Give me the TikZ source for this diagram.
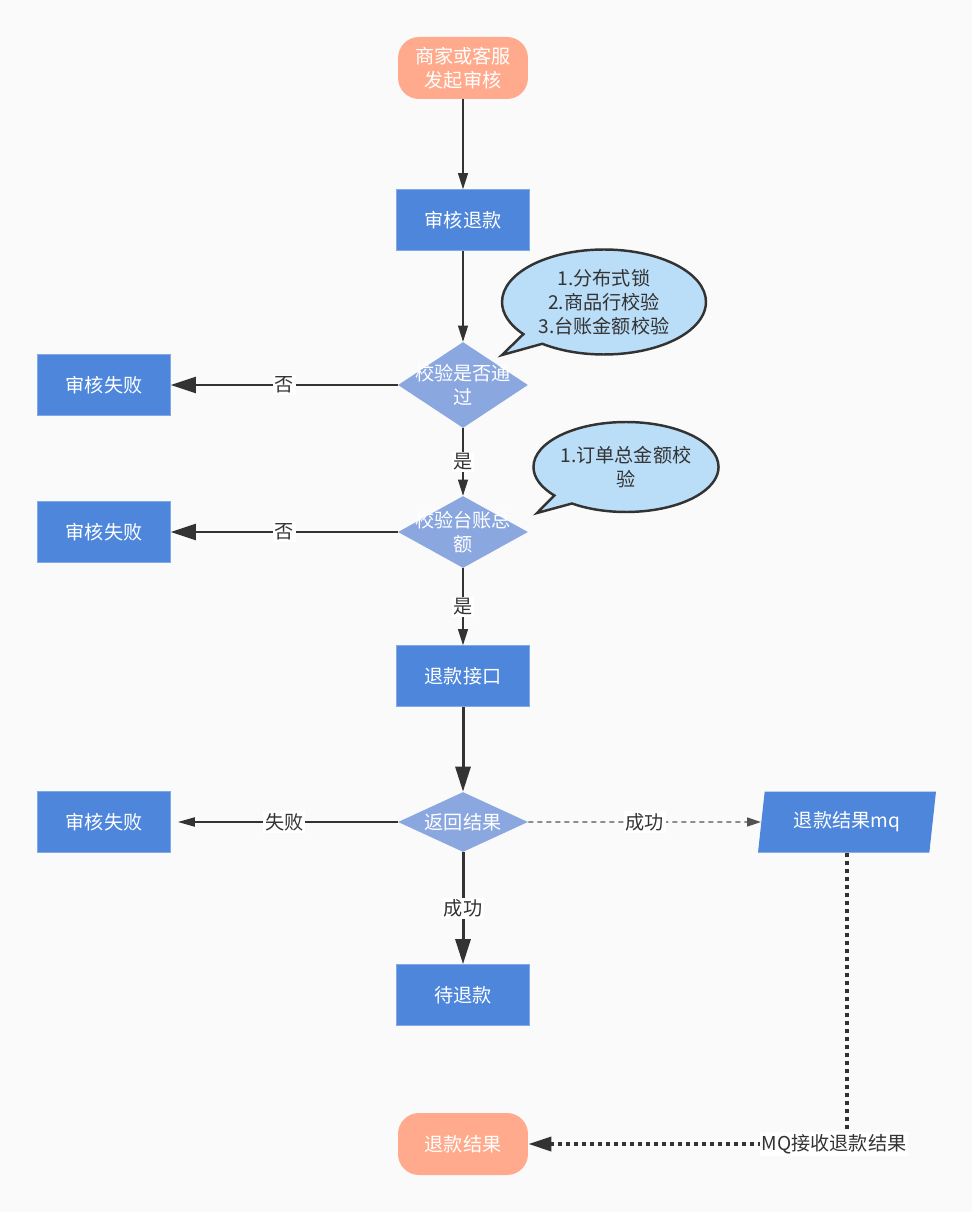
\documentclass[tikz,border=0pt]{standalone}
\usepackage{fontspec}
\setmainfont{Noto Sans CJK SC}
\usetikzlibrary{shapes.geometric,shapes.callouts,arrows.meta}
\definecolor{bgcol}{HTML}{FAFAFA}
\definecolor{termfill}{HTML}{FFAA8C}
\definecolor{procfill}{HTML}{4D86DB}
\definecolor{decfill}{HTML}{8AA7E0}
\definecolor{notefill}{HTML}{BADDF8}
\definecolor{linecol}{HTML}{333333}

\begin{document}
\begin{tikzpicture}
  [x=0.02cm,y=-0.02cm,
   every node/.style={font=\fontsize{10.9}{13.6}\selectfont},
   term/.style={rounded corners=0.42cm,fill=termfill,text=white,minimum width=2.6cm,minimum height=1.24cm,align=center,inner sep=0},
   proc/.style={fill=procfill,draw=procfill!70!white,text=white,minimum width=2.66cm,minimum height=1.22cm,inner sep=0},
   dec/.style={diamond,fill=decfill,minimum width=2.6cm,minimum height=1.72cm,inner sep=0},
   dectxt/.style={text=white,align=center,inner sep=0},
   note/.style={ellipse callout,draw=linecol,line width=1.4pt,fill=notefill,text=linecol,align=center,inner sep=0},
   lbl/.style={fill=white,text=linecol,inner sep=1pt},
   thinarr/.style={draw=linecol,line width=0.6pt,-{Triangle[length=0.32cm,width=0.2cm]}},
   thickarr/.style={draw=linecol,line width=1.2pt,-{Triangle[length=0.5cm,width=0.32cm]}},
   boldarr/.style={draw=linecol,line width=1.7pt,-{Triangle[length=0.5cm,width=0.3cm]}}]
  \fill[bgcol] (0,0) rectangle (972,1212);

  % main column
  \node[term] (start) at (463,68) {商家或客服\\发起审核};
  \node[proc] (audit) at (463,220) {审核退款};
  \node[dec,label={[dectxt]center:校验是否通\\过}] (chk1) at (463,385) {};
  \node[dec,minimum height=1.44cm,label={[dectxt]center:校验台账总\\额}] (chk2) at (463,532) {};
  \node[proc] (api) at (463,676) {退款接口};
  \node[dec,minimum height=1.2cm,label={[dectxt]center:返回结果}] (ret) at (463,822) {};
  \node[proc] (wait) at (463,995) {待退款};
  \node[term] (res) at (463,1144) {退款结果};

  % failures
  \node[proc] (fail1) at (104,385) {审核失败};
  \node[proc] (fail2) at (104,532) {审核失败};
  \node[proc] (fail3) at (104,822) {审核失败};

  % mq
  \node[trapezium,trapezium left angle=72,trapezium right angle=108,trapezium stretches body,
        fill=procfill,text=white,minimum width=3.56cm,minimum height=1.22cm,inner sep=0] (mq) at (847,822) {退款结果mq};

  % notes
  \node[note,minimum width=4.08cm,minimum height=2.1cm,callout absolute pointer={(502,355)}] (note1) at (604,302)
    {1.分布式锁\\2.商品行校验\\3.台账金额校验};
  \node[note,minimum width=3.64cm,minimum height=1.8cm,callout absolute pointer={(537,513)}] (note2) at (626,467)
    {1.订单总金额校\\验};

  % connectors
  \draw[thinarr] (start) -- (audit);
  \draw[thinarr] (audit) -- (chk1);
  \draw[thickarr] (chk1) -- node[lbl] {否} (fail1);
  \draw[thinarr] (chk1) -- node[lbl] {是} (chk2);
  \draw[thickarr] (chk2) -- node[lbl] {否} (fail2);
  \draw[thinarr] (chk2) -- node[lbl] {是} (api);
  \draw[boldarr] (api) -- (ret);
  \draw[draw=linecol,line width=1.1pt,shorten >=0.14cm,-{Triangle[length=0.34cm,width=0.18cm]}]
    (ret) -- node[lbl] {失败} (fail3);
  \draw[draw=linecol!85,line width=0.8pt,dash pattern=on 0.1cm off 0.08cm,-{Triangle[length=0.28cm,width=0.18cm]}]
    (ret) -- node[lbl] {成功} (mq);
  \draw[boldarr] (ret) -- node[lbl] {成功} (wait);
  \draw[draw=linecol,line width=2pt,dash pattern=on 0.09cm off 0.07cm,-{Triangle[length=0.46cm,width=0.28cm]}]
    (mq) |- node[lbl,pos=0.5,xshift=-0.26cm] {MQ接收退款结果} (res);
\end{tikzpicture}
\end{document}
